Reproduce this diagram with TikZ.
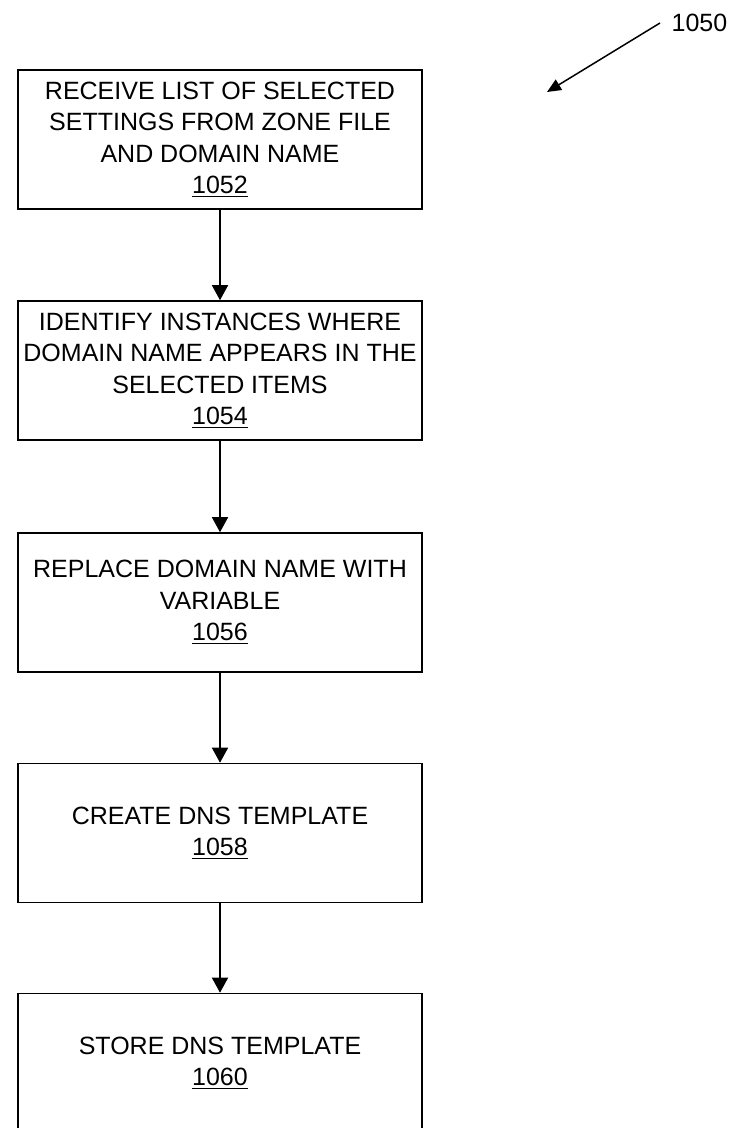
\documentclass[tikz,border=0pt]{standalone}
\usepackage{fontspec}
\setmainfont{Liberation Sans}
\usetikzlibrary{arrows.meta}
\newcommand\refnum[1]{\setbox0\hbox{#1}\rlap{\rule[-3.5pt]{\wd0}{1.5pt}}\box0}
\begin{document}
\begin{tikzpicture}[x=1pt,y=-1pt,
  stepbox/.style={draw=black, line width=1.6pt, minimum width=404pt, minimum height=139pt,
    align=center, inner sep=0pt, font=\fontsize{25}{31.5}\selectfont},
  flow/.style={line width=1.6pt, -{Triangle[length=15pt,width=16pt]}},
  lbl/.style={inner sep=0pt, font=\fontsize{25}{30}\selectfont},
]
\useasboundingbox (0,0) rectangle (730,1128);
\node[stepbox] (b1) at (220,139.5) {RECEIVE LIST OF SELECTED\\SETTINGS FROM ZONE FILE\\AND DOMAIN NAME\\\refnum{1052}};
\node[stepbox] (b2) at (220,370.5) {IDENTIFY INSTANCES WHERE\\DOMAIN NAME APPEARS IN THE\\SELECTED ITEMS\\\refnum{1054}};
\node[stepbox] (b3) at (220,602.5) {REPLACE DOMAIN NAME WITH\\VARIABLE\\\refnum{1056}};
\node[stepbox] (b4) at (220,833) {CREATE DNS TEMPLATE\\\refnum{1058}};
\node[stepbox] (b5) at (220,1063) {STORE DNS TEMPLATE\\\refnum{1060}};
\draw[flow] (b1) -- (b2);
\draw[flow] (b2) -- (b3);
\draw[flow] (b3) -- (b4);
\draw[flow] (b4) -- (b5);
\node[lbl] (fig) at (699.5,23) {1050};
\coordinate (figstart) at (660,23);
\coordinate (figtip) at (547,92);
\draw[line width=1.5pt, -{Triangle[length=14pt,width=12pt]}] (figstart) -- (figtip);
\end{tikzpicture}
\end{document}
